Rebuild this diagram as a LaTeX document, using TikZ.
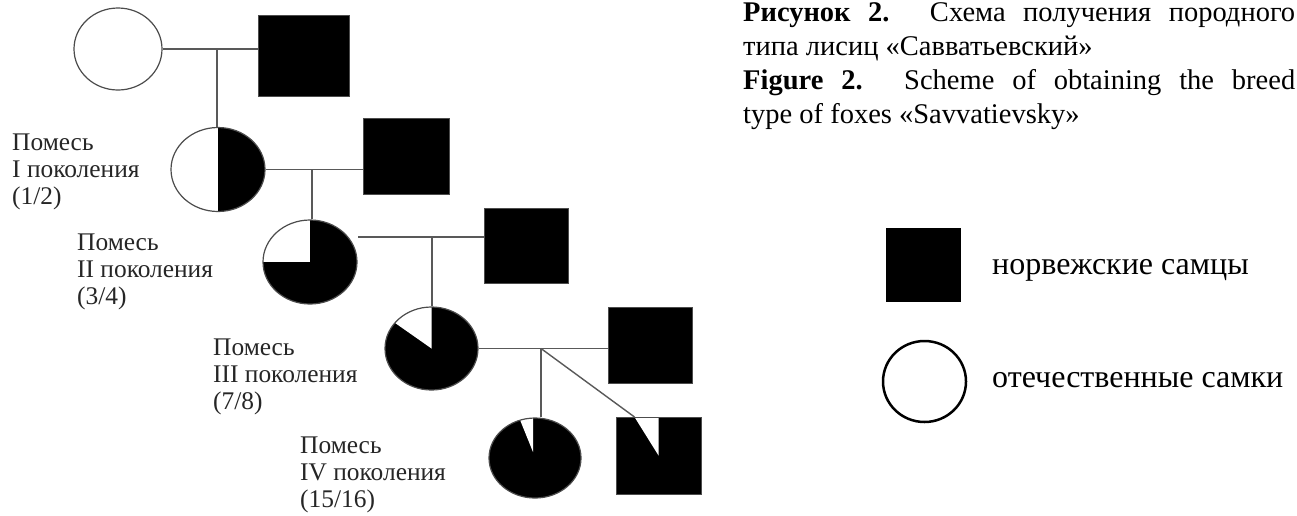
\documentclass[tikz,border=0pt]{standalone}
\usepackage{fontspec}
\setmainfont{Liberation Serif}
\usetikzlibrary{shapes.geometric}
\begin{document}
\begin{tikzpicture}[x=1pt,y=-1pt,
  fem/.style={ellipse, draw=black!70, line width=1.2pt, fill=white, inner sep=0pt},
  mal/.style={rectangle, fill=black, draw=black!70, line width=1pt, inner sep=0pt},
  link/.style={draw=black!65, line width=1.4pt},
  lbl/.style={anchor=base west, inner sep=0pt, text=black!85, font=\fontsize{25.4}{28}\selectfont},
  captxt/.style={anchor=base west, inner sep=0pt, font=\fontsize{28.5}{34}\selectfont},
  legtxt/.style={anchor=base west, inner sep=0pt, font=\fontsize{32}{36}\selectfont}]
\useasboundingbox[fill=white] (0,0) rectangle (1297,515);

% generation 0
\node[fem, minimum width=88pt, minimum height=82pt] (F0) at (118,49) {};
\node[mal, minimum width=91pt, minimum height=81pt] (M0) at (303.5,55.5) {};
% generation 1
\node[fem, minimum width=94pt, minimum height=84pt,
  path picture={\fill[black] (path picture bounding box.north) rectangle (path picture bounding box.south east);}] (F1) at (218,169.5) {};
\node[mal, minimum width=86pt, minimum height=76pt] (M1) at (406,156) {};
% generation 2
\node[fem, fill=black, minimum width=94pt, minimum height=84pt,
  path picture={\fill[white] (path picture bounding box.center) rectangle (path picture bounding box.north west);}] (F2) at (310,262) {};
\node[mal, minimum width=84pt, minimum height=75pt] (M2) at (526,245.5) {};
% generation 3
\node[fem, fill=black, minimum width=93pt, minimum height=83pt,
  path picture={\fill[white] (path picture bounding box.center) -- ++(0,-100) -- ++(-81.9,42.6) -- cycle;}] (F3) at (431.5,348.5) {};
\node[mal, minimum width=84pt, minimum height=76pt] (M3) at (650,345) {};
% generation 4
\node[fem, fill=black, minimum width=92pt, minimum height=80pt,
  path picture={\fill[white] ([xshift=-2pt,yshift=6pt]path picture bounding box.center) -- ++(0,-100) -- ++(-37.5,7.3) -- cycle;}] (F4) at (535,458) {};
\node[mal, minimum width=85pt, minimum height=77pt,
  path picture={\fill[white] (path picture bounding box.center) -- (path picture bounding box.north) -- ++(-24,0) -- cycle;}] (M4) at (658.5,455.5) {};

% connectors
\draw[link] (F0.east) -- (F0.east -| M0.west);
\coordinate (b0) at (217,49);
\draw[link] (b0) -- (b0 |- F1.north);
\draw[link] (F1.east) -- (F1.east -| M1.west);
\coordinate (b1) at (312,169.5);
\draw[link] (b1) -- (b1 |- F2.north);
\coordinate (j2) at (358,237);
\draw[link] (j2) -- (j2 -| M2.west);
\coordinate (b2) at (432,237);
\draw[link] (b2) -- (b2 |- F3.north);
\draw[link] (F3.east) -- (F3.east -| M3.west);
\coordinate (b3) at (541,348.5);
\draw[link] (b3) -- (b3 |- F4.north);
\coordinate (d4) at (634.5,417);
\draw[link] (b3) -- (d4);

% labels
\node[lbl] (l1a) at (12,150) {Помесь};
\node[lbl] (l1b) at (12,177) {I поколения};
\node[lbl] (l1c) at (12,204) {(1/2)};
\node[lbl] (l2a) at (77,250) {Помесь};
\node[lbl] (l2b) at (77,277) {II поколения};
\node[lbl] (l2c) at (77,304) {(3/4)};
\node[lbl] (l3a) at (213,355) {Помесь};
\node[lbl] (l3b) at (213,382) {III поколения};
\node[lbl] (l3c) at (213,409) {(7/8)};
\node[lbl] (l4a) at (300,453) {Помесь};
\node[lbl] (l4b) at (300,480) {IV поколения};
\node[lbl] (l4c) at (300,507) {(15/16)};

% caption
\node[captxt] (c1) at (743,21) {\makebox[552pt][s]{\textbf{Рисунок 2.} Схема получения породного}};
\node[captxt] (c2) at (743,55) {типа лисиц «Савватьевский»};
\node[captxt] (c3) at (743,89) {\makebox[552pt][s]{\textbf{Figure 2.} Scheme of obtaining the breed}};
\node[captxt] (c4) at (743,123) {type of foxes «Savvatievsky»};

% legend
\node[mal, draw=none, minimum width=75pt, minimum height=74pt] (LM) at (923.5,265) {};
\node[ellipse, draw=black, line width=2.5pt, fill=white, inner sep=0pt, minimum width=83pt, minimum height=81pt] (LF) at (924.5,381.5) {};
\node[legtxt] (tM) at (992,274) {норвежские самцы};
\node[legtxt] (tF) at (992,387) {отечественные самки};
\end{tikzpicture}
\end{document}
